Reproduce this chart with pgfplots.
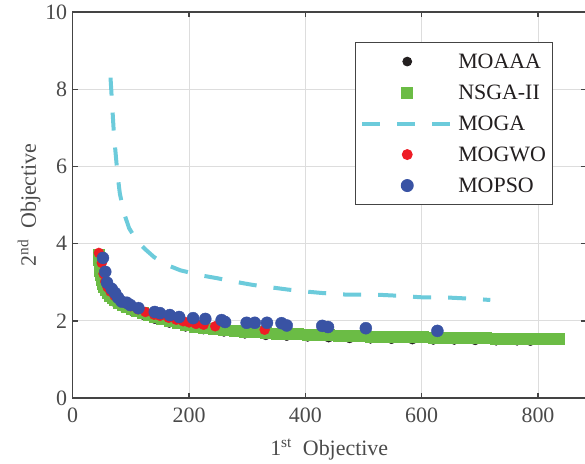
\documentclass[border=0pt]{standalone}
\usepackage{fontspec}
\setmainfont{Liberation Serif}
\usepackage{pgfplots}
\pgfplotsset{compat=1.18}
\usetikzlibrary{calc}

\definecolor{moaaa}{HTML}{231F20}
\definecolor{nsga}{HTML}{6BBC45}
\definecolor{moga}{HTML}{6CCBDB}
\definecolor{mogwo}{HTML}{EE1C25}
\definecolor{mopso}{HTML}{3953A4}
\definecolor{gridgray}{HTML}{DDDDDD}
\definecolor{axisgray}{HTML}{444444}
\definecolor{labelgray}{HTML}{4A4A4A}

\pgfplotsset{
  markleg/.style={legend image code/.code={%
    \path[draw=none] (0bp,0bp) -- (94bp,0bp);
    \draw[mark repeat=2,mark phase=2,##1] plot coordinates {(0bp,0bp) (45bp,0bp) (90bp,0bp)};}},
  lineleg/.style={legend image code/.code={%
    \path[draw=none] (0bp,0bp) -- (94bp,0bp);
    \draw[##1] (0bp,0bp) -- (90bp,0bp);}},
}

\begin{document}
\begin{tikzpicture}
\begin{axis}[
    scale only axis,
    width=512.9bp, height=386bp,
    xmin=0, xmax=882, ymin=0, ymax=10,
    xtick={0,200,...,800}, ytick={0,2,...,10},
    grid=major,
    grid style={color=gridgray, line width=0.8bp},
    axis line style={color=axisgray, line width=1.3bp},
    tick style={color=axisgray, line width=1.3bp},
    tick align=inside, major tick length=5bp,
    ticklabel style={font=\fontsize{22}{26}\selectfont, text=labelgray},
    xticklabel style={yshift=-6bp},
    yticklabel style={xshift=-2bp},
    /pgf/number format/assume math mode=true,
    label style={font=\fontsize{22}{26}\selectfont, text=labelgray},
    xlabel={1\textsuperscript{st}\ \ Objective},
    ylabel={2\textsuperscript{nd}\ \ Objective},
    xlabel style={yshift=-10bp},
    ylabel style={yshift=-2bp},
    legend style={at={(axis cs:485,9.22)}, anchor=north west,
      draw=axisgray, line width=0.9bp, fill=white,
      inner xsep=5bp, inner ysep=9bp, row sep=11bp,
      font=\fontsize{22}{24}\selectfont, text=moaaa,
      cells={anchor=west}},
]
% MOAAA (mostly under the NSGA-II band)
\addplot[only marks, mark=*, mark size=4.4bp, color=moaaa, markleg] coordinates {
(44,3.65)(46,3.37)(48,3.12)(52,2.90)(57,2.73)(64,2.59)(73,2.47)(86,2.35)
(101,2.25)(120,2.15)(141,2.04)(166,1.94)(194,1.84)(225,1.77)(260,1.71)
(296,1.66)(332,1.62)(368,1.60)(404,1.58)(440,1.56)(476,1.54)(512,1.53)
(548,1.52)(584,1.51)(620,1.50)(656,1.50)(692,1.49)(728,1.48)(764,1.48)(787,1.47)
};
\addlegendentry{MOAAA}
% NSGA-II
\addplot[only marks, mark=square*, mark size=5.5bp, color=nsga, markleg] coordinates {
(44,3.72)(45,3.58)(46,3.44)(47,3.31)(48,3.19)(50,3.07)(52,2.97)(54,2.88)
(57,2.80)(60,2.73)(64,2.66)(68,2.60)(73,2.54)(79,2.48)(86,2.42)(93,2.37)
(101,2.32)(110,2.27)(120,2.22)(130,2.16)(141,2.10)(153,2.05)(166,2.00)
(180,1.94)(194,1.90)(209,1.86)(225,1.83)(242,1.80)(260,1.77)(278,1.75)
(296,1.73)(314,1.71)(332,1.69)(350,1.68)(368,1.67)(386,1.66)(404,1.65)
(422,1.64)(440,1.63)(458,1.62)(476,1.61)(494,1.61)(512,1.60)(530,1.60)
(548,1.59)(566,1.59)(584,1.58)(602,1.58)(620,1.57)(638,1.57)(656,1.57)
(674,1.56)(692,1.56)(710,1.56)(728,1.55)(746,1.55)(764,1.55)(782,1.54)
(800,1.54)(818,1.54)(835,1.53)
};
\addlegendentry{NSGA-II}
% MOGA
\addplot[color=moga, line width=4bp, line cap=butt, dash pattern=on 18bp off 17bp, lineleg] coordinates {
(65,8.30)(67,7.80)(69,7.30)(71,6.80)(74,6.30)(77,5.80)(81,5.30)(88,4.80)
(97,4.40)(110,4.08)(125,3.85)(140,3.65)(160,3.46)(185,3.31)(220,3.18)
(250,3.10)(280,3.01)(310,2.93)(340,2.87)(370,2.81)(400,2.76)(430,2.72)
(470,2.68)(520,2.68)(560,2.65)(600,2.61)(650,2.60)(690,2.57)(718,2.54)
};
\addlegendentry{MOGA}
% MOGWO
\addplot[only marks, mark=*, mark size=5bp, color=mogwo, markleg] coordinates {
(45,3.76)(50,3.50)(53,3.22)(56,3.02)(60,2.87)(65,2.76)(72,2.65)(80,2.56)
(90,2.46)(100,2.38)(112,2.30)(125,2.23)(140,2.16)(150,2.13)(165,2.08)
(178,2.03)(190,1.99)(200,1.96)(212,1.92)(225,1.90)(245,1.86)(330,1.77)
};
\addlegendentry{MOGWO}
% MOPSO
\addplot[only marks, mark=*, mark size=6bp, color=mopso, markleg] coordinates {
(52,3.63)(56,3.27)(59,2.99)(67,2.83)(73,2.72)(78,2.60)(84,2.50)(93,2.47)
(99,2.41)(113,2.33)(141,2.23)(150,2.20)(167,2.15)(183,2.10)(207,2.07)
(228,2.05)(256,2.02)(262,1.97)(299,1.95)(313,1.95)(334,1.95)(359,1.94)
(368,1.88)(429,1.87)(439,1.84)(504,1.81)(627,1.74)
};
\addlegendentry{MOPSO}
\end{axis}
\pgfresetboundingbox
\path[use as bounding box] ($(current axis.south west)+(-72.7bp,-65bp)$)
  rectangle ($(current axis.north east)+(-0.7bp,12bp)$);
\end{tikzpicture}
\end{document}
